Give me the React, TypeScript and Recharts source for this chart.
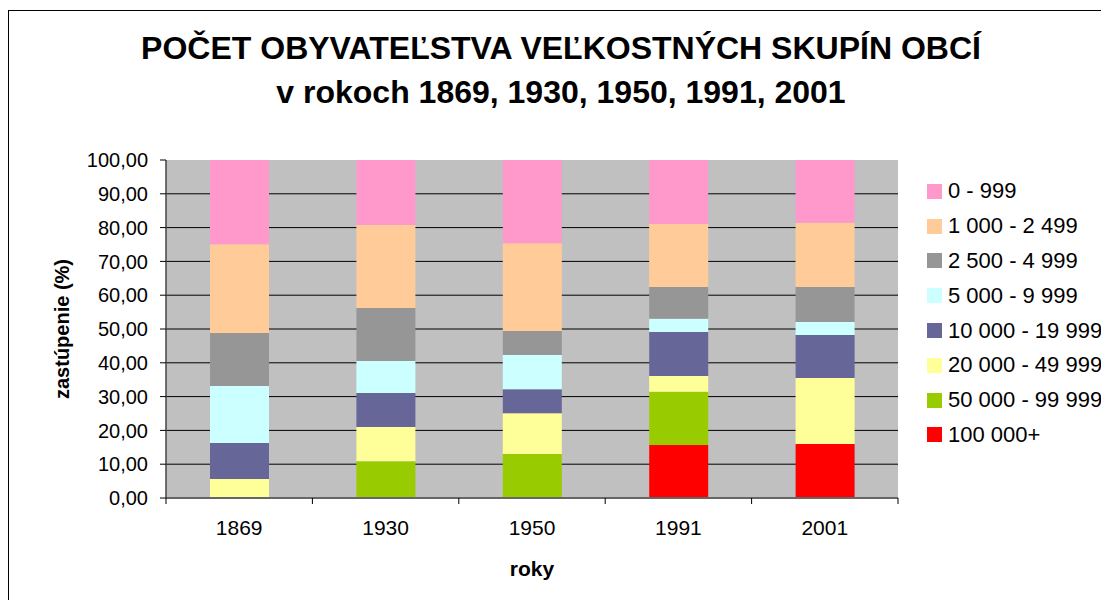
import { BarChart, Bar, XAxis, YAxis, CartesianGrid, Label } from "recharts";

const years = ["1869", "1930", "1950", "1991", "2001"];

// percentage share per size group of municipalities (bottom of stack first)
const over100k = [0, 0, 0, 15.7, 16.0];
const from50k = [0, 10.9, 13.0, 15.7, 0];
const from20k = [5.6, 10.1, 12.1, 4.7, 19.5];
const from10k = [10.7, 10.1, 7.1, 13.0, 12.7];
const from5k = [16.8, 9.4, 10.1, 3.9, 3.9];
const from2500 = [15.7, 15.7, 7.1, 9.4, 10.3];
const from1000 = [26.3, 24.6, 26.0, 18.7, 19.0];
const under1000 = [24.9, 19.2, 24.6, 18.9, 18.6];

const yTicks = [0, 10, 20, 30, 40, 50, 60, 70, 80, 90, 100];

const groups = [
  { key: "g100k", name: "100 000+", color: "#FF0000", values: over100k },
  { key: "g50k", name: "50 000 - 99 999", color: "#99CC00", values: from50k },
  { key: "g20k", name: "20 000 - 49 999", color: "#FFFF99", values: from20k },
  { key: "g10k", name: "10 000 - 19 999", color: "#666699", values: from10k },
  { key: "g5k", name: "5 000 - 9 999", color: "#CCFFFF", values: from5k },
  { key: "g2500", name: "2 500 - 4 999", color: "#969696", values: from2500 },
  { key: "g1000", name: "1 000 - 2 499", color: "#FFCC99", values: from1000 },
  { key: "g0", name: "0 - 999", color: "#FF99CC", values: under1000 },
];

const data = years.map((year, i) => {
  const row: Record<string, string | number> = { year };
  groups.forEach((g) => (row[g.key] = g.values[i]));
  return row;
});

const FONT = "'Liberation Sans', Arial, sans-serif";

const W = 1101;
const H = 600;
const MARGIN = { top: 160, right: 203, bottom: 14, left: 0 };
const Y_AXIS_W = 166;
const BAND = (W - MARGIN.left - MARGIN.right - Y_AXIS_W) / years.length;
const TICK_GAP = 22; // tickSize + tickMargin on the category axis

const fmt = (v: number) => v.toFixed(2).replace(".", ",");

// inner grid lines only (skip the 0 and 100 edges)
const gridLines = ({ offset }: any) =>
  yTicks
    .filter((t) => t > 0 && t < 100)
    .map((t) => offset.top + offset.height * (1 - t / 100));

// category label plus tick marks between categories (Excel style)
const YearTick = (props: any) => {
  const { x, y, payload, index } = props;
  const axisY = y - TICK_GAP;
  const last = index === years.length - 1;
  return (
    <g>
      <line x1={x - BAND / 2} x2={x - BAND / 2} y1={axisY} y2={axisY + 6} stroke="#000" />
      {last && (
        <line x1={x + BAND / 2} x2={x + BAND / 2} y1={axisY} y2={axisY + 6} stroke="#000" />
      )}
      <text
        x={x}
        y={y}
        dy="0.71em"
        textAnchor="middle"
        fontSize={21}
        fontFamily={FONT}
        fill="#000"
      >
        {payload.value}
      </text>
    </g>
  );
};

export default function App() {
  return (
    <div
      style={{
        position: "absolute",
        left: 0,
        top: 0,
        width: W,
        height: H,
        overflow: "hidden",
        background: "#fff",
        fontFamily: FONT,
      }}
    >
      <div
        style={{
          position: "absolute",
          left: 8,
          top: 10,
          width: 1200,
          height: 700,
          border: "1px solid #000",
        }}
      />
      <div
        style={{
          position: "absolute",
          left: 0,
          top: 26,
          width: 1122,
          textAlign: "center",
          fontWeight: "bold",
          fontSize: 32,
          lineHeight: "44px",
          color: "#000",
        }}
      >
        <div>POČET OBYVATEĽSTVA VEĽKOSTNÝCH SKUPÍN OBCÍ</div>
        <div>v rokoch 1869, 1930, 1950, 1991, 2001</div>
      </div>

      <div style={{ position: "absolute", left: 0, top: 0 }}>
        <BarChart width={W} height={H} data={data} margin={MARGIN}>
          <CartesianGrid
            vertical={false}
            stroke="#000"
            fill="#c0c0c0"
            horizontalCoordinatesGenerator={gridLines}
          />
          <XAxis
            dataKey="year"
            height={88}
            axisLine={{ stroke: "#666", strokeWidth: 2 }}
            tickLine={false}
            tickSize={6}
            tickMargin={TICK_GAP - 6}
            tick={YearTick}
            interval={0}
          >
            <Label
              content={(p: any) => (
                <text
                  x={p.viewBox.x + p.viewBox.width / 2}
                  y={568}
                  textAnchor="middle"
                  dominantBaseline="central"
                  fontWeight="bold"
                  fontSize={21}
                  fontFamily={FONT}
                  fill="#000"
                >
                  roky
                </text>
              )}
            />
          </XAxis>
          <YAxis
            width={Y_AXIS_W}
            domain={[0, 100]}
            ticks={yTicks}
            tickFormatter={fmt}
            tickSize={6}
            tickMargin={12}
            tickLine={{ stroke: "#000" }}
            axisLine={{ stroke: "#444", strokeWidth: 1.5 }}
            tick={{ fill: "#000", fontSize: 20, fontFamily: FONT }}
          >
            <Label
              content={(p: any) => {
                const cy = p.viewBox.y + p.viewBox.height / 2;
                return (
                  <text
                    x={62}
                    y={cy}
                    transform={`rotate(-90, 62, ${cy})`}
                    textAnchor="middle"
                    dominantBaseline="central"
                    fontWeight="bold"
                    fontSize={20}
                    fontFamily={FONT}
                    fill="#000"
                  >
                    zastúpenie (%)
                  </text>
                );
              }}
            />
          </YAxis>
          {groups.map((g) => (
            <Bar
              key={g.key}
              dataKey={g.key}
              name={g.name}
              stackId="a"
              fill={g.color}
              barSize={59}
              isAnimationActive={false}
            />
          ))}
        </BarChart>
      </div>

      <div style={{ position: "absolute", left: 927, top: 174 }}>
        {[...groups].reverse().map((g) => (
          <div
            key={g.key}
            style={{
              display: "flex",
              alignItems: "center",
              height: 34.8,
              whiteSpace: "nowrap",
              fontSize: 22,
              color: "#000",
            }}
          >
            <span
              style={{
                width: 15,
                height: 15,
                background: g.color,
                marginRight: 6,
                flex: "none",
              }}
            />
            {g.name}
          </div>
        ))}
      </div>
    </div>
  );
}
